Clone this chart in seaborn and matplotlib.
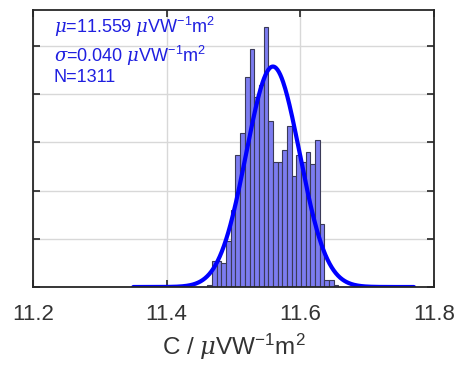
import numpy as np
import pandas as pd
import matplotlib
matplotlib.use("Agg")
import matplotlib.pyplot as plt
import seaborn as sns

# ---- data ----
bin_start = 11.461
bin_width = 0.0070
counts = [1, 11, 11, 10, 19, 32, 55, 64, 87, 99, 79, 84, 108, 69,
          52, 52, 57, 67, 46, 55, 52, 56, 51, 61, 26, 3, 3, 1]
MU = 11.559
SIGMA = 0.040
N = 1311
fit_range = [11.35, 11.77]
xticks = [11.2, 11.4, 11.6, 11.8]
xtick_labels = ["11.2", "11.4", "11.6", "11.8"]
yticks = [0, 20, 40, 60, 80, 100]

edges = bin_start + bin_width * np.arange(len(counts) + 1)
centers = (edges[:-1] + edges[1:]) / 2
df = pd.DataFrame({"C": centers, "n": np.asarray(counts, dtype=float)})

xf = np.linspace(fit_range[0], fit_range[1], 400)
yf = N * bin_width / (SIGMA * np.sqrt(2 * np.pi)) * np.exp(-0.5 * ((xf - MU) / SIGMA) ** 2)
fit = pd.DataFrame({"C": xf, "y": yf})

sns.set_theme(style="ticks")
plt.rcParams["font.family"] = ["Liberation Sans", "DejaVu Sans"]
plt.rcParams["mathtext.fontset"] = "custom"
plt.rcParams["mathtext.rm"] = "Liberation Sans"
plt.rcParams["mathtext.it"] = "DejaVu Serif:italic"
plt.rcParams["mathtext.bf"] = "Liberation Sans:bold"

fig = plt.figure(figsize=(4.61, 3.71), dpi=100)
ax = fig.add_axes([0.0716, 0.2264, 0.8698, 0.7466])

sns.histplot(data=df, x="C", weights="n", binwidth=bin_width,
             binrange=(edges[0], edges[-1] - bin_width * 0.01), ax=ax,
             color="#7c7cf0", edgecolor="#3a3a58", linewidth=0.8, alpha=1.0)
sns.lineplot(data=fit, x="C", y="y", ax=ax, color="#0000ff", linewidth=3.0)

ax.set_xlim(11.2, 11.8)
ax.set_ylim(0, 115)
ax.set_xticks(xticks)
ax.set_xticklabels(xtick_labels, fontsize=16, color="#333333")
ax.set_yticks(yticks)
ax.set_yticklabels([])
ax.set_ylabel("")
ax.set_xlabel(r"C / $\mu$VW$^{-1}$m$^{2}$", fontsize=17.5, color="#333333", labelpad=5)

ax.set_axisbelow(True)
ax.grid(True, color="#d8d8d8", linewidth=1.0)
ax.tick_params(direction="in", length=5, width=1.2, top=True, right=True,
               colors="#262626", pad=12)
ax.tick_params(axis="x", labelcolor="#333333")
for s in ax.spines.values():
    s.set_visible(True)
    s.set_linewidth(1.3)
    s.set_color("#262626")

tc = "#1f1fe0"
ax.text(0.052, 0.917, r"$\mu$=11.559 $\mu$VW$^{-1}$m$^{2}$", transform=ax.transAxes,
        fontsize=13, color=tc, va="baseline")
ax.text(0.052, 0.812, r"$\sigma$=0.040 $\mu$VW$^{-1}$m$^{2}$", transform=ax.transAxes,
        fontsize=13, color=tc, va="baseline")
ax.text(0.052, 0.740, "N=1311", transform=ax.transAxes, fontsize=13, color=tc,
        va="baseline")

fig.savefig("out.png", dpi=100)
